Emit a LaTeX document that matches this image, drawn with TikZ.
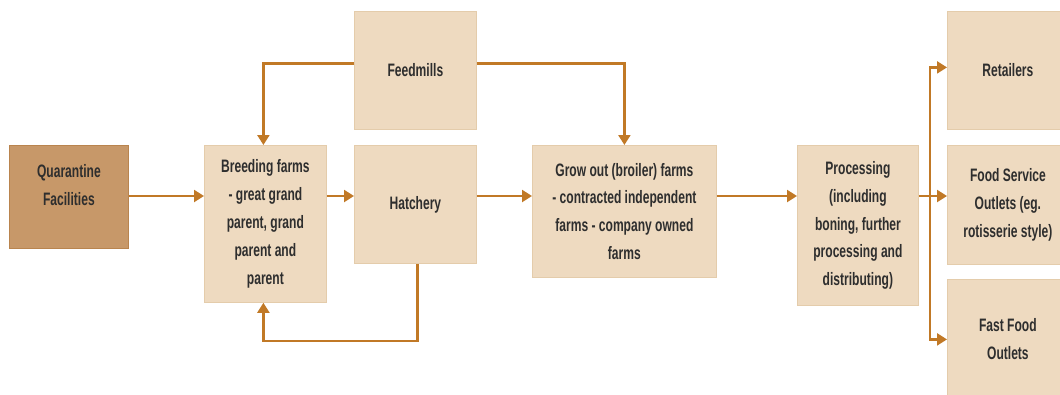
\documentclass[tikz,border=0pt]{standalone}
\usepackage{fontspec}
\newfontfamily\diagfont[FakeStretch=0.67]{Liberation Sans Bold}
\usetikzlibrary{arrows.meta}
\definecolor{boxfill}{HTML}{EEDAC0}
\definecolor{boxedge}{HTML}{E4CCAB}
\definecolor{darkfill}{HTML}{C79869}
\definecolor{darkedge}{HTML}{B9844E}
\definecolor{flow}{HTML}{C17926}
\definecolor{textgray}{HTML}{2E2E2E}
\tikzset{
  x=1pt, y=-1pt,
  box/.style={draw=boxedge, fill=boxfill, line width=0.8pt, inner sep=0pt,
    anchor=north west, align=center, text=textgray,
    font=\diagfont\fontsize{18}{27.8}\selectfont},
  darkbox/.style={box, draw=darkedge, fill=darkfill},
  txt/.style={align=center, text=textgray, inner sep=0pt,
    font=\diagfont\fontsize{18}{27.8}\selectfont},
  arr/.style={draw=flow, line width=2.2pt,
    -{Triangle[length=10pt,width=12pt]}},
}
\begin{document}
\begin{tikzpicture}
\useasboundingbox (0,0) rectangle (1060,394);
\clip (0,0) rectangle (1060,394);
\fill[white] (0,0) rectangle (1060,394);

% boxes
\node[darkbox, minimum width=119pt, minimum height=103pt] (quar) at (9,145) {};
\node[txt] (quartext) at ([yshift=12pt]quar.center) {Quarantine\\Facilities};
\node[box, minimum width=122pt, minimum height=157pt] (breed) at (204,145)
  {Breeding farms\\- great grand\\parent, grand\\parent and\\parent};
\node[box, minimum width=122pt, minimum height=118pt] (feed) at (354,11) {Feedmills};
\node[box, minimum width=122pt, minimum height=118pt] (hatch) at (354,145) {Hatchery};
\node[box, minimum width=184pt, minimum height=132pt] (grow) at (532,145)
  {Grow out (broiler) farms\\- contracted independent\\farms - company owned\\farms};
\node[box, minimum width=121pt, minimum height=160pt] (proc) at (797,145)
  {Processing\\(including\\boning, further\\processing and\\distributing)};
\node[box, minimum width=121pt, minimum height=118pt] (ret) at (947,11) {Retailers};
\node[box, minimum width=121pt, minimum height=119pt] (food) at (947,145)
  {Food Service\\Outlets (eg.\\rotisserie style)};
\node[box, minimum width=121pt, minimum height=120pt] (fast) at (947,279)
  {Fast Food\\Outlets};

% main line
\coordinate (row) at (0,196);
\coordinate (split) at (930,196);
\draw[arr] (quar.east |- row) -- (breed.west |- row);
\draw[arr] (breed.east |- row) -- (hatch.west |- row);
\draw[arr] (hatch.east |- row) -- (grow.west |- row);
\draw[arr] (grow.east |- row) -- (proc.west |- row);
\draw[arr] (proc.east |- row) -- (food.west |- row);
\draw[arr] (split) |- ([yshift=3pt]ret.west);
\draw[arr] (split) |- (fast.west);

% feed supply
\draw[arr] ([yshift=7pt]feed.west) -| ([xshift=-2pt]breed.north);
\draw[arr] ([yshift=7pt]feed.east) -| (grow.north);

% parent stock return
\draw[arr] ([xshift=2pt]hatch.south) |- (300,341) -| ([xshift=-2pt]breed.south);
\end{tikzpicture}
\end{document}
